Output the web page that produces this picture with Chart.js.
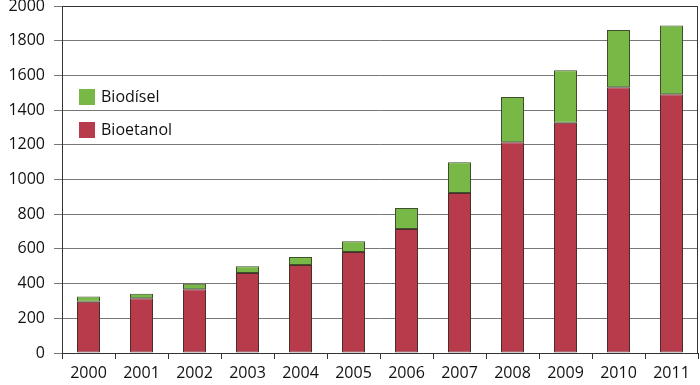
<!DOCTYPE html>
<html>
<head>
    <title>Bioetanol y Biodísel</title>
    <style>
        body {
            margin: 0;
            background: white;
        }

        .chart-container {
            width: 700px;
            height: 385px;
        }
    </style>
    <script src="https://cdn.jsdelivr.net/npm/chart.js"></script>
</head>
<body>

    <div class="chart-container">
        <canvas id="fuelChart"></canvas>
    </div>

    <script>
        const years = ['2000', '2001', '2002', '2003', '2004', '2005', '2006', '2007', '2008', '2009', '2010', '2011'];
        const bioetanol = [295, 315, 367, 461, 507, 582, 715, 922, 1214, 1327, 1531, 1491];
        const biodisel = [30, 27, 32, 39, 46, 62, 121, 177, 261, 302, 331, 397];

        const fontFamily = '"Open Sans", sans-serif';
        const textColor = '#111';

        // box around the plot + legend inside the plot area
        const framePlugin = {
            id: 'frame',
            afterDraw(chart) {
                const ctx = chart.ctx;
                const area = chart.chartArea;
                ctx.save();
                ctx.strokeStyle = '#333';
                ctx.lineWidth = 1;
                ctx.beginPath();
                ctx.moveTo(area.left, area.top + 0.5);
                ctx.lineTo(area.right - 0.5, area.top + 0.5);
                ctx.lineTo(area.right - 0.5, area.bottom);
                ctx.stroke();

                const items = [
                    { label: 'Biodísel', color: '#78b846' },
                    { label: 'Bioetanol', color: '#b83b4b' }
                ];
                ctx.font = '16px ' + fontFamily;
                ctx.textBaseline = 'middle';
                items.forEach((item, i) => {
                    const x = area.left + 17;
                    const y = 89 + i * 33;
                    ctx.fillStyle = item.color;
                    ctx.fillRect(x, y, 16, 16);
                    ctx.fillStyle = textColor;
                    ctx.fillText(item.label, x + 22, y + 8);
                });
                ctx.restore();
            }
        };

        new Chart(document.getElementById('fuelChart'), {
            type: 'bar',
            data: {
                labels: years,
                datasets: [{
                    label: 'Bioetanol',
                    data: bioetanol,
                    backgroundColor: '#b83b4b',
                    borderColor: '#4a2e2a',
                    borderWidth: 1,
                    borderSkipped: false,
                    inflateAmount: 0,
                    barPercentage: 23 / 53,
                    categoryPercentage: 1
                }, {
                    label: 'Biodísel',
                    data: biodisel,
                    backgroundColor: '#78b846',
                    borderColor: '#3e4e2c',
                    borderWidth: 1,
                    borderSkipped: false,
                    inflateAmount: 0,
                    barPercentage: 23 / 53,
                    categoryPercentage: 1
                }]
            },
            options: {
                responsive: true,
                maintainAspectRatio: false,
                animation: false,
                layout: {
                    padding: { top: 6, right: 2, left: 0, bottom: 0 }
                },
                plugins: {
                    legend: { display: false },
                    tooltip: { enabled: false }
                },
                scales: {
                    x: {
                        stacked: true,
                        grid: {
                            offset: true,
                            drawOnChartArea: false,
                            tickLength: 6,
                            color: '#333'
                        },
                        border: { color: '#333', width: 1 },
                        ticks: {
                            color: textColor,
                            font: { family: fontFamily, size: 16 },
                            padding: 5,
                            maxRotation: 0
                        },
                        afterFit(scale) {
                            scale.height = 32;
                            scale.paddingLeft = 0;
                            scale.paddingRight = 0;
                        }
                    },
                    y: {
                        stacked: true,
                        min: 0,
                        max: 2000,
                        ticks: {
                            stepSize: 200,
                            color: textColor,
                            font: { family: fontFamily, size: 16 },
                            padding: 9,
                            callback: value => String(value)
                        },
                        grid: {
                            color: '#777',
                            tickLength: 8,
                            lineWidth: 1
                        },
                        border: { color: '#333', width: 1 },
                        afterFit(scale) {
                            scale.width = 62;
                            scale.paddingTop = 0;
                            scale.paddingBottom = 0;
                        }
                    }
                }
            },
            plugins: [framePlugin]
        });
    </script>

</body>
</html>
